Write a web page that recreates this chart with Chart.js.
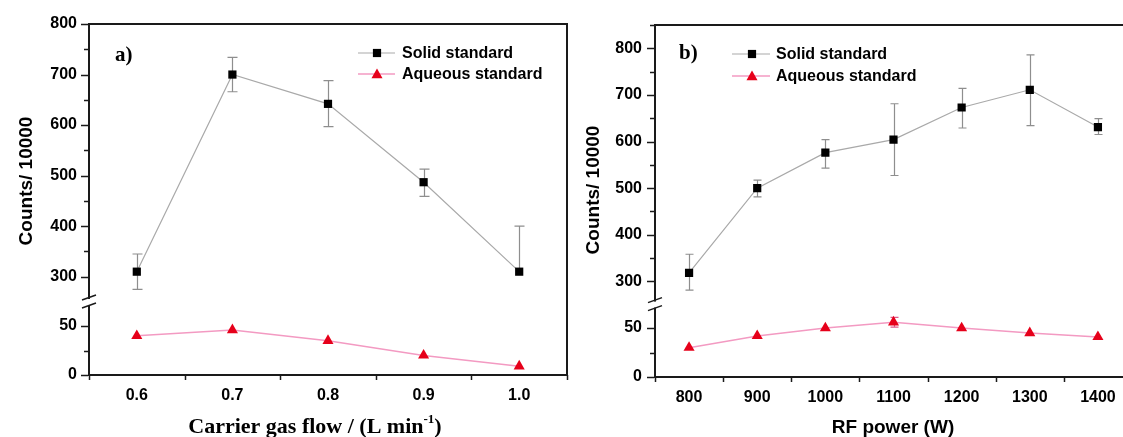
<!DOCTYPE html>
<html>
<head>
<meta charset="utf-8">
<script src="https://cdn.jsdelivr.net/npm/chart.js@4.4.1/dist/chart.umd.min.js"></script>
<style>
html,body{margin:0;padding:0;background:#fff;width:1123px;height:437px;overflow:hidden;position:relative}
#ca{position:absolute;left:0;top:0}
#cb{position:absolute;left:575px;top:0}
</style>
</head>
<body>
<canvas id="ca" width="590" height="437"></canvas>
<canvas id="cb" width="570" height="437"></canvas>
<script>
// ---------- data ----------
const seriesNames = ['Solid standard', 'Aqueous standard'];

// panel a) carrier gas flow
const flowValues = [0.6, 0.7, 0.8, 0.9, 1.0];
const flowTickLabels = ['0.6', '0.7', '0.8', '0.9', '1.0'];
const flowSolid = [310, 700, 642, 487, 310];
const flowSolidErrUp = [35, 34, 46, 26, 90];
const flowSolidErrDown = [35, 34, 45, 28, 0];
const flowAqueous = [40, 46, 35, 20, 9];
const flowAqueousErr = [0, 0, 0, 0, 0];

// panel b) RF power
const powerValues = [800, 900, 1000, 1100, 1200, 1300, 1400];
const powerTickLabels = ['800', '900', '1000', '1100', '1200', '1300', '1400'];
const powerSolid = [318, 500, 576, 604, 673, 711, 631];
const powerSolidErrUp = [40, 17, 28, 77, 41, 75, 18];
const powerSolidErrDown = [37, 19, 33, 77, 44, 77, 16];
const powerAqueous = [30, 42, 50, 56, 50, 45, 41];
const powerAqueousErr = [0, 0, 0, 5, 0, 0, 0];

// y axis (broken) tick labels
const upperTickLabels = ['300', '400', '500', '600', '700', '800'];
const lowerTickLabels = ['0', '50'];

// ---------- helpers ----------
const AXIS = '#1a1a1a';
const SANS = '"Liberation Sans", Arial, sans-serif';
const SERIF = '"Liberation Serif", "Times New Roman", serif';

function drawMarker(ctx, style, x, y, r, color) {
  ctx.fillStyle = color;
  ctx.beginPath();
  if (style === 'rect') {
    const s = r * Math.SQRT1_2;
    ctx.rect(x - s, y - s, 2 * s, 2 * s);
  } else {
    let a = 0;
    ctx.moveTo(x + Math.sin(a) * r, y - Math.cos(a) * r);
    a += 2 * Math.PI / 3;
    ctx.lineTo(x + Math.sin(a) * r, y - Math.cos(a) * r);
    a += 2 * Math.PI / 3;
    ctx.lineTo(x + Math.sin(a) * r, y - Math.cos(a) * r);
    ctx.closePath();
  }
  ctx.fill();
}

const decor = {
  id: 'decor',
  beforeDatasetsDraw(chart) {
    const ctx = chart.ctx;
    const P = chart.options.plugins.decor;
    chart.data.datasets.forEach(ds => {
      if (!ds.errUp) return;
      const xs = chart.scales[ds.xAxisID], ys = chart.scales[ds.yAxisID];
      ctx.save();
      ctx.strokeStyle = ds.errColor;
      ctx.lineWidth = 1.2;
      ds.data.forEach((p, i) => {
        const up = ds.errUp[i], dn = ds.errDown[i];
        if (!up && !dn) return;
        const px = Math.round(xs.getPixelForValue(p.x)) + 0.5;
        let yT = ys.getPixelForValue(p.y + up), yB = ys.getPixelForValue(p.y - dn);
        const capT = up > 0 && yT >= ys.top, capB = dn > 0 && yB <= ys.bottom;
        yT = Math.max(yT, ys.top); yB = Math.min(yB, ys.bottom);
        const cw = P.capW;
        ctx.beginPath();
        ctx.moveTo(px, yT); ctx.lineTo(px, yB);
        if (capT) { ctx.moveTo(px - cw, yT); ctx.lineTo(px + cw, yT); }
        if (capB) { ctx.moveTo(px - cw, yB); ctx.lineTo(px + cw, yB); }
        ctx.stroke();
      });
      ctx.restore();
    });
  },
  afterDraw(chart) {
    const ctx = chart.ctx;
    const P = chart.options.plugins.decor;
    const ca = chart.chartArea;
    const yTop = chart.scales.yTop, yBot = chart.scales.yBot, xs = chart.scales.x;
    ctx.save();
    // frame (top & right)
    ctx.strokeStyle = AXIS;
    ctx.lineWidth = 2;
    ctx.beginPath();
    ctx.moveTo(ca.left - 1, ca.top); ctx.lineTo(ca.right, ca.top);
    ctx.lineTo(ca.right, ca.bottom + 1);
    ctx.stroke();

    // y tick marks
    ctx.lineWidth = 1.5;
    [yTop, yBot].forEach((s, k) => {
      const majors = s.ticks.map(t => t.value);
      const step = majors[1] - majors[0];
      const marks = [];
      majors.forEach(v => { marks.push([v, 7]); marks.push([v + step / 2, 4]); });
      marks.push([majors[0] - step / 2, 4]);
      marks.forEach(([v, len]) => {
        if (v < s.min - 1e-9 || v > s.max + 1e-9) return;
        if (k === 0 && Math.abs(v - s.min) < 1e-9) return;
        if (k === 1 && Math.abs(v - s.max) < 1e-9) return;
        const py = Math.round(s.getPixelForValue(v)) + 0.5;
        ctx.beginPath(); ctx.moveTo(ca.left - 1, py); ctx.lineTo(ca.left - 1 - len, py); ctx.stroke();
      });
    });
    // x tick marks (between labels)
    {
      const majors = xs.ticks.map(t => t.value);
      const step = majors[1] - majors[0];
      const mids = [majors[0] - step / 2].concat(majors.map(v => v + step / 2));
      mids.forEach(v => {
        if (v < xs.min - 1e-9 || v > xs.max + 1e-9) return;
        const px = Math.round(xs.getPixelForValue(v)) + 0.5;
        ctx.beginPath(); ctx.moveTo(px, ca.bottom); ctx.lineTo(px, ca.bottom + 5); ctx.stroke();
      });
    }

    // axis break marker
    const yb = yTop.bottom;
    const ax = ca.left;
    ctx.fillStyle = '#fff';
    ctx.fillRect(ax - 3, yb - 3, 6, 6);
    ctx.strokeStyle = AXIS;
    ctx.lineWidth = 1.5;
    ctx.beginPath();
    ctx.moveTo(ax - 7, yb - 2); ctx.lineTo(ax + 7, yb - 7);
    ctx.moveTo(ax - 7, yb + 6); ctx.lineTo(ax + 7, yb + 1);
    ctx.stroke();

    // legend
    const L = P.legend;
    chart.data.datasets.forEach((ds, i) => {
      const y = L.rows[i];
      ctx.strokeStyle = ds.borderColor;
      ctx.lineWidth = ds.borderWidth;
      ctx.beginPath(); ctx.moveTo(L.x0, y); ctx.lineTo(L.x1, y); ctx.stroke();
      drawMarker(ctx, ds.pointStyle, L.mx, y + (ds.pointStyle === 'triangle' ? 1 : 0), ds.pointRadius, ds.pointBackgroundColor);
      ctx.fillStyle = '#000';
      ctx.font = 'bold 16px ' + SANS;
      ctx.textAlign = 'left';
      ctx.textBaseline = 'middle';
      ctx.fillText(ds.label, L.tx, y + 1);
    });

    // panel label
    ctx.fillStyle = '#000';
    ctx.font = 'bold 21px ' + SERIF;
    ctx.textAlign = 'left';
    ctx.textBaseline = 'middle';
    ctx.fillText(P.panel.text, P.panel.x, P.panel.y);

    // y title
    ctx.save();
    ctx.translate(P.yTitle.x, P.yTitle.y);
    ctx.rotate(-Math.PI / 2);
    ctx.font = 'bold 19px ' + SANS;
    ctx.textAlign = 'center';
    ctx.textBaseline = 'middle';
    ctx.fillText(P.yTitle.text, 0, 0);
    ctx.restore();

    // x title (with optional superscript)
    const T = P.xTitle;
    ctx.textBaseline = 'middle';
    ctx.textAlign = 'left';
    ctx.font = T.font;
    const w1 = ctx.measureText(T.main).width;
    const w3 = ctx.measureText(T.tail || '').width;
    ctx.font = T.supFont;
    const w2 = T.sup ? ctx.measureText(T.sup).width : 0;
    let x = T.x - (w1 + w2 + w3) / 2;
    ctx.font = T.font;
    ctx.fillText(T.main, x, T.y); x += w1;
    if (T.sup) { ctx.font = T.supFont; ctx.fillText(T.sup, x, T.y - 7); x += w2; }
    if (T.tail) { ctx.font = T.font; ctx.fillText(T.tail, x, T.y); }
    ctx.restore();
  }
};

function buildPanel(id, P) {
  const tickFont = { family: SANS, weight: 'bold', size: 16 };
  const border = { display: true, color: AXIS, width: 2 };
  const xTicks = P.xLabels.map(Number);
  const upTicks = upperTickLabels.map(Number);
  const lowTicks = lowerTickLabels.map(Number);
  return new Chart(document.getElementById(id), {
    type: 'line',
    data: {
      datasets: [
        {
          label: seriesNames[0],
          data: P.cats.map((x, i) => ({ x, y: P.solid[i] })),
          xAxisID: 'x', yAxisID: 'yTop',
          borderColor: '#a9a9a9', borderWidth: 1.2,
          pointStyle: 'rect', pointRadius: 5.8, pointBorderWidth: 0,
          pointBackgroundColor: '#000', pointBorderColor: '#000',
          errUp: P.solidUp, errDown: P.solidDown, errColor: '#8e8e8e',
          tension: 0
        },
        {
          label: seriesNames[1],
          data: P.cats.map((x, i) => ({ x, y: P.aq[i] })),
          xAxisID: 'x', yAxisID: 'yBot',
          borderColor: '#f39ac2', borderWidth: 1.5,
          pointStyle: 'triangle', pointRadius: 6.4, pointBorderWidth: 0,
          pointBackgroundColor: '#e6001a', pointBorderColor: '#e6001a',
          errUp: P.aqErr, errDown: P.aqErr, errColor: '#e05a8a',
          tension: 0
        }
      ]
    },
    options: {
      responsive: false,
      animation: false,
      events: [],
      layout: { padding: { left: 0, top: P.top, right: P.right, bottom: 0 } },
      plugins: { legend: { display: false }, tooltip: { enabled: false }, decor: P },
      scales: {
        x: {
          type: 'linear', position: 'bottom', min: P.xMin, max: P.xMax, bounds: 'data',
          afterBuildTicks: s => { s.ticks = xTicks.map(v => ({ value: v })); },
          afterFit: s => { s.height = P.xH; },
          grid: { display: false, drawTicks: false },
          border: border,
          ticks: { autoSkip: false, maxRotation: 0, padding: P.xPad, font: tickFont, color: '#000',
                   callback: (v, i) => P.xLabels[i] }
        },
        yBot: {
          type: 'linear', position: 'left', stack: 'y', stackWeight: P.botWeight,
          min: 0, max: P.botMax, bounds: 'data',
          afterBuildTicks: s => { s.ticks = lowTicks.map(v => ({ value: v })); },
          afterFit: s => { s.width = P.yW; },
          grid: { display: false, drawTicks: false },
          border: border,
          ticks: { autoSkip: false, padding: P.yPad, font: tickFont, color: '#000',
                   callback: (v, i) => lowerTickLabels[i] }
        },
        yTop: {
          type: 'linear', position: 'left', stack: 'y', stackWeight: P.topWeight,
          min: P.topMin, max: P.topMax, bounds: 'data',
          afterBuildTicks: s => { s.ticks = upTicks.map(v => ({ value: v })); },
          afterFit: s => { s.width = P.yW; },
          grid: { display: false, drawTicks: false },
          border: border,
          ticks: { autoSkip: false, padding: P.yPad, font: tickFont, color: '#000',
                   callback: (v, i) => upperTickLabels[i] }
        }
      }
    },
    plugins: [decor]
  });
}

buildPanel('ca', {
  cats: flowValues, xLabels: flowTickLabels,
  solid: flowSolid, solidUp: flowSolidErrUp, solidDown: flowSolidErrDown,
  aq: flowAqueous, aqErr: flowAqueousErr,
  xMin: 0.55, xMax: 1.05,
  topMin: 250, topMax: 800, topWeight: 278,
  botMax: 74.5, botWeight: 73,
  top: 24, right: 23, yW: 89, xH: 62, yPad: 12, xPad: 11, capW: 5,
  legend: { x0: 358, x1: 395, mx: 377, tx: 402, rows: [53, 74] },
  panel: { text: 'a)', x: 115, y: 56 },
  yTitle: { text: 'Counts/ 10000', x: 27, y: 181 },
  xTitle: { main: 'Carrier gas flow / (L min', sup: '-1', tail: ')', x: 315, y: 427,
            font: 'bold 22px ' + SERIF, supFont: 'bold 13px ' + SERIF }
});

buildPanel('cb', {
  cats: powerValues, xLabels: powerTickLabels,
  solid: powerSolid, solidUp: powerSolidErrUp, solidDown: powerSolidErrDown,
  aq: powerAqueous, aqErr: powerAqueousErr,
  xMin: 750, xMax: 1450,
  topMin: 250, topMax: 850, topWeight: 279.6,
  botMax: 74, botWeight: 72.4,
  top: 25, right: 13, yW: 80, xH: 60, yPad: 13, xPad: 11, capW: 4,
  legend: { x0: 157, x1: 195, mx: 177, tx: 201, rows: [54, 76] },
  panel: { text: 'b)', x: 104, y: 54 },
  yTitle: { text: 'Counts/ 10000', x: 19, y: 190 },
  xTitle: { main: 'RF power (W)', x: 318, y: 428,
            font: 'bold 19px ' + SANS, supFont: 'bold 12px ' + SANS }
});
</script>
</body>
</html>
